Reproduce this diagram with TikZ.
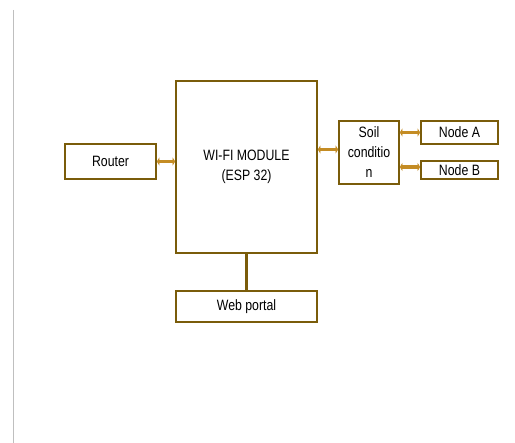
\documentclass[tikz,border=0pt]{standalone}
\usepackage{fontspec}
\setmainfont{Liberation Sans}[FakeStretch=0.82]
\usetikzlibrary{arrows.meta}

\definecolor{boxline}{RGB}{122,92,10}
\definecolor{linkgold}{RGB}{196,140,36}

\tikzset{
  block/.style={draw=boxline, line width=1.7pt, fill=white, inner sep=1pt,
    align=center, font=\fontsize{15}{20}\selectfont},
  link/.style={linkgold, line width=3.5pt,
    {Triangle[length=2.5pt,width=8pt]}-{Triangle[length=2.5pt,width=8pt]}}
}

\begin{document}
\begin{tikzpicture}[x=1pt, y=-1pt]
    % Page frame
    \useasboundingbox (0,0) rectangle (515,443);
    \draw[black!25, line width=1pt] (13,10) -- (13,443);

    % Blocks
    \node[block, minimum width=141pt, minimum height=172pt] (wifi) at (246.5,167) {WI-FI MODULE\\(ESP 32)};
    \node[block, minimum width=91pt, minimum height=35pt] (router) at (110.5,161.5) {Router};
    \node[block, minimum width=60pt, minimum height=63pt] (soil) at (369,152.5) {Soil\\conditio\\n};
    \node[block, minimum width=77pt, minimum height=23pt] (nodea) at (459.5,132.5) {Node A};
    \node[block, minimum width=77pt, minimum height=18pt] (nodeb) at (459.5,170) {Node B};
    \node[block, minimum width=141pt, minimum height=31pt] (web) at (246.5,306.5) {Web portal};

    % Links
    \draw[link] (router.east) -- (router.east -| wifi.west);
    \draw[link] ([yshift=3pt]soil.west -| wifi.east) -- ([yshift=3pt]soil.west);
    \draw[link] (nodea.west -| soil.east) -- (nodea.west);
    \draw[link] ([yshift=3pt]nodeb.west -| soil.east) -- ([yshift=3pt]nodeb.west);
    \draw[boxline, line width=2.2pt] (wifi.south) -- (web.north);
\end{tikzpicture}
\end{document}
